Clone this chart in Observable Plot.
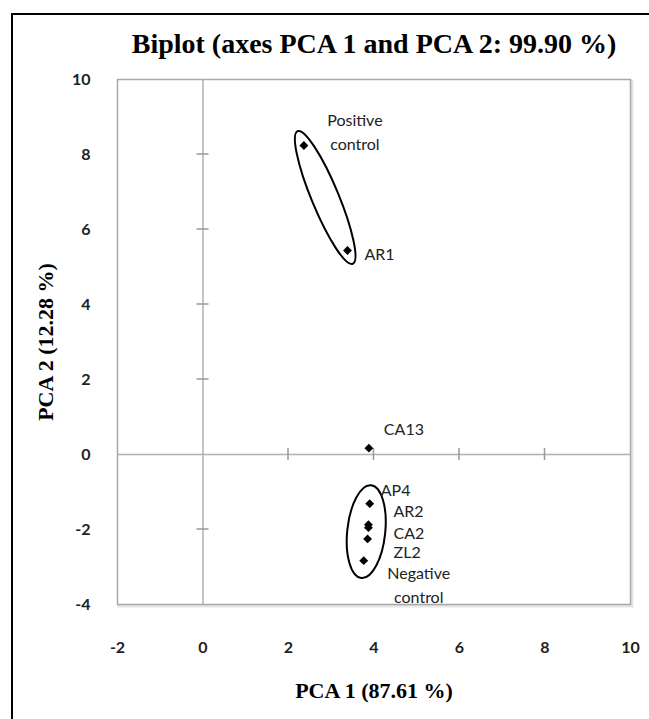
<!DOCTYPE html>
<html>
<head>
<meta charset="utf-8">
<script src="https://cdn.jsdelivr.net/npm/d3@7"></script>
<script src="https://cdn.jsdelivr.net/npm/@observablehq/plot@0.6"></script>
<style>
  html, body { margin: 0; padding: 0; background: #fff; }
  #wrap { position: relative; width: 649px; height: 719px; overflow: hidden; }
  #border { position: absolute; left: 11px; top: 13px; width: 700px; height: 800px;
            border-left: 2px solid #000; border-top: 2px solid #000; pointer-events: none; }
  #chart { position: absolute; left: 0; top: 0; }
</style>
</head>
<body>
<div id="wrap">
  <div id="chart"></div>
  <div id="border"></div>
</div>
<script>
// ---- data ----
const names = ["Positive control", "AR1", "CA13", "AP4", "AR2", "CA2", "ZL2", "Negative control"];
const pca1  = [2.36, 3.38, 3.88, 3.90, 3.87, 3.87, 3.85, 3.76];
const pca2  = [8.24, 5.44, 0.17, -1.31, -1.87, -1.95, -2.25, -2.83];
const groups = [["Positive control", "AR1"], ["AP4", "AR2", "CA2", "ZL2", "Negative control"]];
const xTicks = [-2, 0, 2, 4, 6, 8, 10];
const yTicks = [-4, -2, 0, 2, 4, 6, 8, 10];
const titleText = "Biplot (axes PCA 1 and PCA 2: 99.90 %)";
const xLabel = "PCA 1 (87.61 %)";
const yLabel = "PCA 2 (12.28 %)";

const rows = names.map((n, i) => ({name: n, x: pca1[i], y: pca2[i]}));

// ---- label placement styles ----
const labelStyle = {
  "Positive control": {dx: 51, dy: -15, anchor: "middle"},
  "AR1": {dx: 17, dy: 2, anchor: "start"},
  "CA13": {dx: 15, dy: -21, anchor: "start"},
  "AP4": {dx: 11, dy: -15, anchor: "start"},
  "AR2": {dx: 25, dy: -15, anchor: "start"},
  "CA2": {dx: 25, dy: 4, anchor: "start"},
  "ZL2": {dx: 26, dy: 12, anchor: "start"},
  "Negative control": {dx: 55, dy: 23, anchor: "middle"}
};
const ellipseStyle = [{pad: 15, minor: 13.5}, {pad: 18, minor: 19}];

const labelFont = "Lato, 'Open Sans', sans-serif";
const serif = "'Liberation Serif', 'DejaVu Serif', serif";
const lineColor = "#b0b0b0";

// custom render: cross ticks on the zero lines
function zeroTicks(index, scales) {
  const g = d3.create("svg:g").attr("stroke", "#999").attr("stroke-width", 1.5);
  const x0 = scales.x(0), y0 = scales.y(0);
  for (const t of xTicks) {
    if (t === 0 || t === -2 || t === 10) continue;
    g.append("line").attr("x1", scales.x(t)).attr("x2", scales.x(t)).attr("y1", y0 - 6).attr("y2", y0 + 6);
  }
  for (const t of yTicks) {
    if (t === 0 || t === -4 || t === 10) continue;
    g.append("line").attr("y1", scales.y(t)).attr("y2", scales.y(t)).attr("x1", x0 - 6).attr("x2", x0 + 6);
  }
  return g.node();
}

// custom render: ellipses around groups, computed from the scaled points
function groupEllipses(index, scales) {
  const g = d3.create("svg:g").attr("fill", "none").attr("stroke", "#000").attr("stroke-width", 2);
  groups.forEach((members, gi) => {
    const pts = rows.filter(r => members.includes(r.name)).map(r => [scales.x(r.x), scales.y(r.y)]);
    pts.sort((a, b) => a[1] - b[1]);
    const a = pts[0], b = pts[pts.length - 1];
    const cx = (a[0] + b[0]) / 2, cy = (a[1] + b[1]) / 2;
    const len = Math.hypot(b[0] - a[0], b[1] - a[1]);
    const ang = Math.atan2(b[1] - a[1], b[0] - a[0]) * 180 / Math.PI;
    const st = ellipseStyle[gi];
    g.append("ellipse")
      .attr("cx", cx).attr("cy", cy)
      .attr("rx", len / 2 + st.pad).attr("ry", st.minor)
      .attr("transform", `rotate(${ang} ${cx} ${cy})`);
  });
  return g.node();
}

const labelMarks = rows.map(r => {
  const s = labelStyle[r.name];
  return Plot.text([r], {
    x: "x", y: "y", text: d => d.name.replace(" ", "\n"),
    dx: s.dx, dy: s.dy, textAnchor: s.anchor, lineAnchor: "middle",
    lineHeight: 1.45,
    fontFamily: labelFont, fontSize: 16, fill: "#222"
  });
});

const chart = Plot.plot({
  width: 649,
  height: 719,
  marginLeft: 117,
  marginRight: 19,
  marginTop: 79,
  marginBottom: 115,
  x: {domain: [-2, 10], axis: null},
  y: {domain: [-4, 10], axis: null},
  style: {background: "transparent", overflow: "visible"},
  marks: [
    Plot.frame({stroke: "#e6e6e6", strokeWidth: 3, dx: 1.5, dy: 1.5}),
    Plot.frame({stroke: "#a8a8a8", strokeWidth: 1.5, fill: "white"}),
    Plot.ruleX([0], {stroke: lineColor, strokeWidth: 1.5}),
    Plot.ruleY([0], {stroke: lineColor, strokeWidth: 1.5}),
    zeroTicks,
    groupEllipses,
    Plot.dot(rows, {x: "x", y: "y", symbol: "diamond2", r: 4, fill: "#000", stroke: "none"}),
    ...labelMarks,
    Plot.text(xTicks, {x: d => d, frameAnchor: "bottom", lineAnchor: "middle", dy: 43, text: d => String(d),
      fontFamily: labelFont, fontWeight: "bold", fontSize: 16, fill: "#222"}),
    Plot.text(yTicks, {y: d => d, frameAnchor: "left", lineAnchor: "middle", dx: -27, textAnchor: "end", text: d => String(d),
      fontFamily: labelFont, fontWeight: "bold", fontSize: 16, fill: "#222"}),
    Plot.text([titleText], {frameAnchor: "top", lineAnchor: "middle", dy: -35, text: d => d,
      fontFamily: serif, fontWeight: "bold", fontSize: 28, fill: "#000"}),
    Plot.text([xLabel], {frameAnchor: "bottom", lineAnchor: "middle", dy: 86, text: d => d,
      fontFamily: serif, fontWeight: "bold", fontSize: 22, fill: "#000"}),
    Plot.text([yLabel], {frameAnchor: "left", lineAnchor: "middle", textAnchor: "middle", dx: -72, rotate: -90, text: d => d,
      fontFamily: serif, fontWeight: "bold", fontSize: 22, fill: "#000"})
  ]
});
document.getElementById("chart").appendChild(chart);
</script>
</body>
</html>
